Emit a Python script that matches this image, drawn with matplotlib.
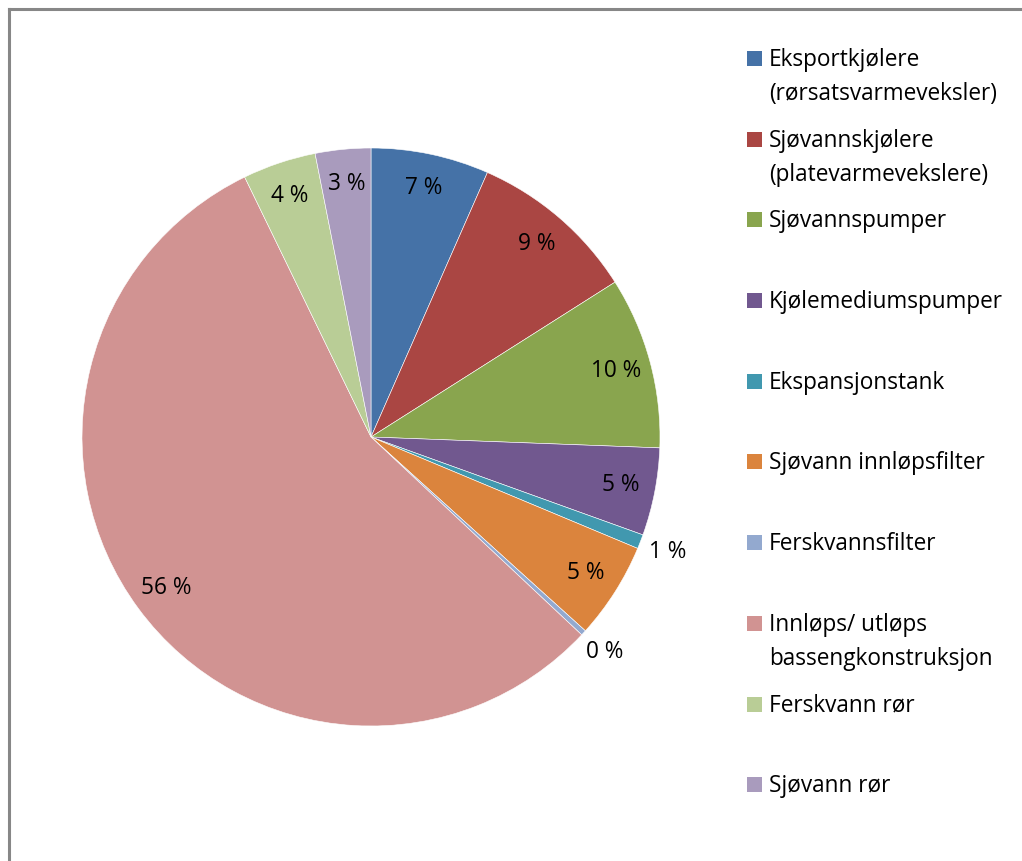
import matplotlib
matplotlib.use("Agg")
import numpy as np
from matplotlib import pyplot as plt
from matplotlib.patches import Rectangle
from matplotlib.lines import Line2D

plt.rcParams['font.family'] = ['Open Sans', 'DejaVu Sans']

# share of each component (percent)
categories = [
    "Eksportkjølere\n(rørsatsvarmeveksler)",
    "Sjøvannskjølere\n(platevarmevekslere)",
    "Sjøvannspumper",
    "Kjølemediumspumper",
    "Ekspansjonstank",
    "Sjøvann innløpsfilter",
    "Ferskvannsfilter",
    "Innløps/ utløps\nbassengkonstruksjon",
    "Ferskvann rør",
    "Sjøvann rør",
]
values = [6.6, 9.4, 9.6, 4.9, 0.8, 5.4, 0.3, 55.8, 4.1, 3.1]
colors = ["#4572A7", "#AA4643", "#89A54E", "#71588F", "#4198AF",
          "#DB843D", "#93A9CF", "#D19392", "#B9CD96", "#A99BBD"]

W, H = 1022, 861
fig = plt.figure(figsize=(W / 100, H / 100), dpi=100)

# pie centre (371, 437) px, radius 289 px
cx, cy, r = 371, 437, 289
ax = fig.add_axes([(cx - r) / W, (H - cy - r) / H, 2 * r / W, 2 * r / H])
wedges, _ = ax.pie(values, colors=colors, startangle=90, counterclock=False,
                   radius=1.0, wedgeprops=dict(edgecolor="white", linewidth=0.4))
ax.set_xlim(-1, 1)
ax.set_ylim(-1, 1)
ax.set_aspect("equal")
ax.axis("off")

# percentage labels, small slices placed outside
total = sum(values)
for w, v in zip(wedges, values):
    ang = np.deg2rad((w.theta1 + w.theta2) / 2)
    dist = 0.88 if v >= 2 else 1.10
    ax.text(dist * np.cos(ang), dist * np.sin(ang), f"{v / total * 100:.0f} %",
            ha="center", va="center", fontsize=16.3, color="black")

# legend drawn as slots down the right side, one baseline per text line
step = 80.7
line_gap = 34
for i, (lab, col) in enumerate(zip(categories, colors)):
    base = 66 + i * step
    fig.patches.append(Rectangle((747 / W, 1 - base / H), 15 / W, 15 / H,
                                 transform=fig.transFigure, facecolor=col,
                                 edgecolor="none"))
    for j, part in enumerate(lab.split("\n")):
        fig.text(769 / W, 1 - (base + j * line_gap) / H, part, ha="left",
                 va="baseline", fontsize=16.3, color="black")

# chart frame (top and left edges)
fig.add_artist(Line2D([8.5 / W, 8.5 / W], [0, 1 - 9 / H], color="#878787",
                      linewidth=2.2, transform=fig.transFigure))
fig.add_artist(Line2D([8.5 / W, 1], [1 - 9 / H, 1 - 9 / H], color="#878787",
                      linewidth=2.2, transform=fig.transFigure))

fig.savefig("out.png", dpi=100)
